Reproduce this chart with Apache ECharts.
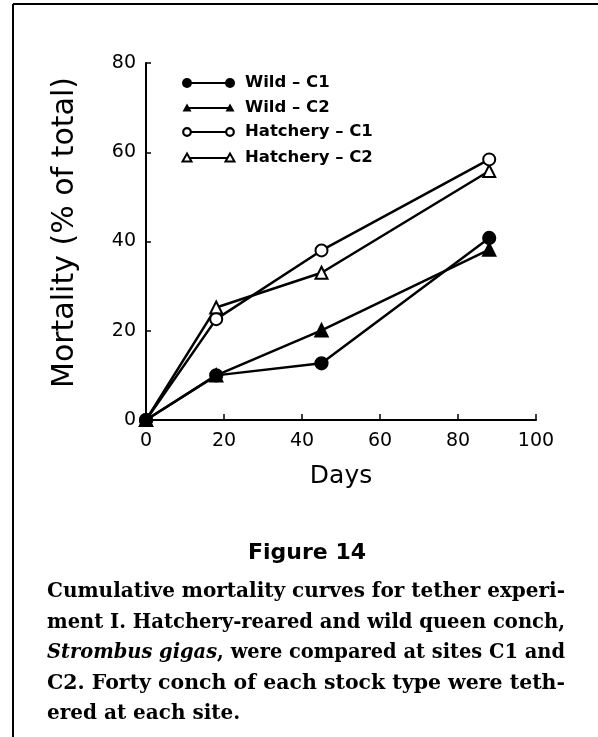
<!DOCTYPE html>
<html>
<head>
<meta charset="utf-8">
<script src="https://cdn.jsdelivr.net/npm/echarts@6/dist/echarts.min.js"></script>
<style>
  html, body { margin: 0; padding: 0; background: #fff; }
  #chart { width: 598px; height: 737px; }
</style>
</head>
<body>
<div id="chart"></div>
<script>
// sampling days
var days = [0, 18, 45, 88];
// cumulative mortality, % of total
var wildC1 = [0, 10, 12.7, 40.8];
var wildC2 = [0, 10, 20.1, 38.2];
var hatchC1 = [0, 22.6, 38.0, 58.4];
var hatchC2 = [0, 25.2, 33.0, 55.8];

var seriesNames = ["Wild \u2013 C1", "Wild \u2013 C2", "Hatchery \u2013 C1", "Hatchery \u2013 C2"];
var xTicks = [0, 20, 40, 60, 80, 100];
var yTicks = [0, 20, 40, 60, 80];

// caption lines: [italic part, plain part]
var captionLines = [
  ["", "Cumulative mortality curves for tether experi-"],
  ["", "ment I. Hatchery-reared and wild queen conch,"],
  ["Strombus gigas", ", were compared at sites C1 and"],
  ["", "C2. Forty conch of each stock type were teth-"],
  ["", "ered at each site."]
];

function pairs(ys) {
  return days.map(function (d, i) { return [d, ys[i]]; });
}

var chart = echarts.init(document.getElementById("chart"));

// legend drawn by hand: marker, line, marker, label
function legendRow(y, kind, label) {
  var els = [];
  els.push({ type: "line", shape: { x1: 187, y1: y, x2: 230, y2: y }, style: { stroke: "#000", lineWidth: 1.8 } });
  [187, 230].forEach(function (cx) {
    if (kind === "dot") {
      els.push({ type: "circle", shape: { cx: cx, cy: y, r: 5 }, style: { fill: "#000" } });
    } else if (kind === "ring") {
      els.push({ type: "circle", shape: { cx: cx, cy: y, r: 3.8 }, style: { fill: "#fff", stroke: "#000", lineWidth: 2.2 } });
    } else {
      var pts = [[cx, y - 4.5], [cx + 4.5, y + 3.5], [cx - 4.5, y + 3.5]];
      els.push({ type: "polygon", shape: { points: pts },
        style: kind === "tri" ? { fill: "#000" } : { fill: "#fff", stroke: "#000", lineWidth: 2 } });
    }
  });
  els.push({ type: "text", x: 245, y: y, style: { text: label, fill: "#000", font: "bold 16.5px 'DejaVu Sans'", verticalAlign: "middle" } });
  return els;
}

var graphics = [
  { type: "line", shape: { x1: 13, y1: 4, x2: 13, y2: 737 }, style: { stroke: "#000", lineWidth: 2 } },
  { type: "line", shape: { x1: 13, y1: 4, x2: 598, y2: 4 }, style: { stroke: "#000", lineWidth: 2 } },
  { type: "text", x: 307, y: 553, style: { text: "Figure 14", fill: "#000", font: "bold 22px 'DejaVu Sans'", align: "center", verticalAlign: "middle" } }
];
graphics = graphics
  .concat(legendRow(83, "dot", seriesNames[0]))
  .concat(legendRow(108, "tri", seriesNames[1]))
  .concat(legendRow(132, "ring", seriesNames[2]))
  .concat(legendRow(158, "otri", seriesNames[3]));

// justified caption: squeeze each full line to the column width
var capLeft = 47, capWidth = 518;
var ctx = document.createElement("canvas").getContext("2d");
function measure(font, s) { ctx.font = font; return ctx.measureText(s).width; }
captionLines.forEach(function (parts, i) {
  var w = measure("italic bold 20px 'DejaVu Serif'", parts[0]) + measure("bold 20px 'DejaVu Serif'", parts[1]);
  var sx = i < captionLines.length - 1 ? capWidth / w : 1;
  graphics.push({
    type: "text", x: capLeft, y: 592 + i * 30.5, scaleX: sx,
    style: {
      text: (parts[0] ? "{i|" + parts[0] + "}" : "") + parts[1],
      fill: "#000", font: "bold 20px 'DejaVu Serif'", verticalAlign: "middle",
      rich: { i: { fontStyle: "italic", fontWeight: "bold", fontFamily: "DejaVu Serif", fontSize: 20 } }
    }
  });
});

var lineCommon = {
  type: "line",
  lineStyle: { color: "#000", width: 2.5 },
  itemStyle: { color: "#000", borderColor: "#000", borderWidth: 2.2 },
  z: 3
};

var option = {
  backgroundColor: "#fff",
  animation: false,
  grid: { left: 146, right: 62, top: 63, bottom: 317, containLabel: false, outerBoundsMode: "none" },
  xAxis: {
    type: "value", min: 0, max: 100, interval: 20,
    name: "Days", nameLocation: "middle", nameGap: 44,
    nameTextStyle: { fontFamily: "DejaVu Sans", fontSize: 25, color: "#000" },
    axisLine: { lineStyle: { color: "#000", width: 2 } },
    axisTick: { inside: true, length: 6, lineStyle: { color: "#000", width: 1.5 } },
    axisLabel: { color: "#000", fontFamily: "DejaVu Sans", fontSize: 19, margin: 12,
      formatter: function (v) { return xTicks.indexOf(v) >= 0 ? String(v) : ""; } },
    splitLine: { show: false }
  },
  yAxis: {
    type: "value", min: 0, max: 80, interval: 20,
    name: "Mortality (% of total)", nameLocation: "middle", nameGap: 66,
    nameTextStyle: { fontFamily: "DejaVu Sans", fontSize: 30, color: "#000", padding: [0, 0, 0, 18] },
    axisLine: { show: true, lineStyle: { color: "#000", width: 2 } },
    axisTick: { show: true, inside: true, length: 5, lineStyle: { color: "#000", width: 1.5 } },
    axisLabel: { color: "#000", fontFamily: "DejaVu Sans", fontSize: 19, margin: 10,
      formatter: function (v) { return yTicks.indexOf(v) >= 0 ? String(v) : ""; } },
    splitLine: { show: false }
  },
  graphic: graphics,
  series: [
    Object.assign({}, lineCommon, { name: seriesNames[3], symbol: "emptyTriangle", symbolSize: 12, data: pairs(hatchC2) }),
    Object.assign({}, lineCommon, { name: seriesNames[2], symbol: "emptyCircle", symbolSize: 12, data: pairs(hatchC1) }),
    Object.assign({}, lineCommon, { name: seriesNames[1], symbol: "triangle", symbolSize: 12, data: pairs(wildC2) }),
    Object.assign({}, lineCommon, { name: seriesNames[0], symbol: "circle", symbolSize: 12, data: pairs(wildC1) })
  ]
};

chart.setOption(option);
</script>
</body>
</html>
